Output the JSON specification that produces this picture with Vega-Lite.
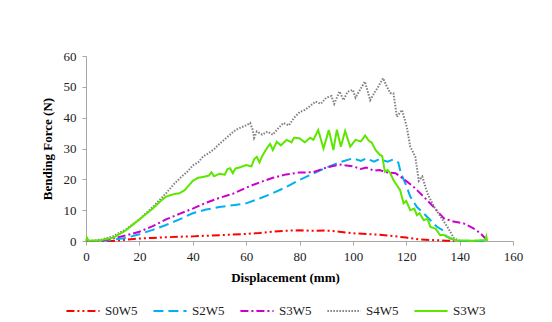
{
  "$schema": "https://vega.github.io/schema/vega-lite/v6.json",
  "autosize": "none",
  "width": 427,
  "height": 185,
  "padding": {"left": 86, "top": 56, "right": 39, "bottom": 81},
  "background": "white",
  "config": {
    "font": "'Liberation Serif', 'Times New Roman', serif",
    "view": {"stroke": null},
    "axis": {
      "labelFont": "'Liberation Serif', 'Times New Roman', serif",
      "labelFontSize": 13,
      "labelColor": "#222222",
      "domainColor": "#A6A6A6",
      "tickColor": "#A6A6A6",
      "tickSize": 4,
      "grid": false,
      "labelFlush": false,
      "titleFont": "'Liberation Serif', 'Times New Roman', serif",
      "titleFontSize": 13,
      "titleFontWeight": "bold",
      "titleColor": "#000000"
    },
    "legend": {
      "labelFont": "'Liberation Serif', 'Times New Roman', serif",
      "labelFontSize": 13,
      "labelColor": "#222222"
    }
  },
  "data": {
    "values": [
      {"series": "S0W5", "x": 0, "y": 0},
      {"series": "S0W5", "x": 5, "y": 0},
      {"series": "S0W5", "x": 10, "y": 0},
      {"series": "S0W5", "x": 15, "y": 0.4},
      {"series": "S0W5", "x": 20, "y": 0.8},
      {"series": "S0W5", "x": 25, "y": 1.0},
      {"series": "S0W5", "x": 30, "y": 1.2},
      {"series": "S0W5", "x": 35, "y": 1.4},
      {"series": "S0W5", "x": 40, "y": 1.5},
      {"series": "S0W5", "x": 45, "y": 1.7},
      {"series": "S0W5", "x": 50, "y": 1.9},
      {"series": "S0W5", "x": 55, "y": 2.1},
      {"series": "S0W5", "x": 60, "y": 2.3},
      {"series": "S0W5", "x": 65, "y": 2.6},
      {"series": "S0W5", "x": 70, "y": 3.0},
      {"series": "S0W5", "x": 75, "y": 3.3},
      {"series": "S0W5", "x": 80, "y": 3.5},
      {"series": "S0W5", "x": 85, "y": 3.3},
      {"series": "S0W5", "x": 90, "y": 3.4},
      {"series": "S0W5", "x": 95, "y": 3.0},
      {"series": "S0W5", "x": 100, "y": 2.5},
      {"series": "S0W5", "x": 105, "y": 2.3},
      {"series": "S0W5", "x": 110, "y": 2.0},
      {"series": "S0W5", "x": 115, "y": 1.6},
      {"series": "S0W5", "x": 120, "y": 1.1},
      {"series": "S0W5", "x": 125, "y": 0.5},
      {"series": "S0W5", "x": 130, "y": 0.3},
      {"series": "S0W5", "x": 135, "y": 0.1},
      {"series": "S0W5", "x": 138, "y": 0},

      {"series": "S2W5", "x": 0, "y": 0},
      {"series": "S2W5", "x": 5, "y": 0},
      {"series": "S2W5", "x": 10, "y": 0.4},
      {"series": "S2W5", "x": 15, "y": 1.0},
      {"series": "S2W5", "x": 20, "y": 2.2},
      {"series": "S2W5", "x": 25, "y": 3.6},
      {"series": "S2W5", "x": 30, "y": 5.2},
      {"series": "S2W5", "x": 35, "y": 7.0},
      {"series": "S2W5", "x": 40, "y": 9.0},
      {"series": "S2W5", "x": 45, "y": 10.2},
      {"series": "S2W5", "x": 50, "y": 11.0},
      {"series": "S2W5", "x": 55, "y": 11.6},
      {"series": "S2W5", "x": 60, "y": 12.2},
      {"series": "S2W5", "x": 65, "y": 13.8},
      {"series": "S2W5", "x": 70, "y": 15.5},
      {"series": "S2W5", "x": 75, "y": 17.5},
      {"series": "S2W5", "x": 80, "y": 19.8},
      {"series": "S2W5", "x": 85, "y": 21.8},
      {"series": "S2W5", "x": 90, "y": 23.8},
      {"series": "S2W5", "x": 95, "y": 25.5},
      {"series": "S2W5", "x": 100, "y": 26.8},
      {"series": "S2W5", "x": 103, "y": 26.0},
      {"series": "S2W5", "x": 105, "y": 26.8},
      {"series": "S2W5", "x": 108, "y": 25.7},
      {"series": "S2W5", "x": 110, "y": 26.6},
      {"series": "S2W5", "x": 113, "y": 25.7},
      {"series": "S2W5", "x": 115, "y": 26.4},
      {"series": "S2W5", "x": 117, "y": 25.5},
      {"series": "S2W5", "x": 118, "y": 22.0},
      {"series": "S2W5", "x": 120, "y": 18.0},
      {"series": "S2W5", "x": 121.5, "y": 14.4},
      {"series": "S2W5", "x": 124, "y": 11.0},
      {"series": "S2W5", "x": 126.5, "y": 9.0},
      {"series": "S2W5", "x": 129, "y": 6.8},
      {"series": "S2W5", "x": 131.5, "y": 4.6},
      {"series": "S2W5", "x": 133.5, "y": 3.6},
      {"series": "S2W5", "x": 135, "y": 1.5},
      {"series": "S2W5", "x": 137.5, "y": 0.5},
      {"series": "S2W5", "x": 140, "y": 0},
      {"series": "S2W5", "x": 145, "y": 0},
      {"series": "S2W5", "x": 150, "y": 0},

      {"series": "S3W5", "x": 0, "y": 0},
      {"series": "S3W5", "x": 5, "y": 0},
      {"series": "S3W5", "x": 10, "y": 0.8},
      {"series": "S3W5", "x": 15, "y": 1.8},
      {"series": "S3W5", "x": 20, "y": 3.0},
      {"series": "S3W5", "x": 25, "y": 4.8},
      {"series": "S3W5", "x": 30, "y": 7.0},
      {"series": "S3W5", "x": 35, "y": 8.8},
      {"series": "S3W5", "x": 40, "y": 10.5},
      {"series": "S3W5", "x": 45, "y": 12.4},
      {"series": "S3W5", "x": 50, "y": 14.0},
      {"series": "S3W5", "x": 55, "y": 15.3},
      {"series": "S3W5", "x": 60, "y": 17.3},
      {"series": "S3W5", "x": 65, "y": 19.0},
      {"series": "S3W5", "x": 70, "y": 20.5},
      {"series": "S3W5", "x": 75, "y": 21.6},
      {"series": "S3W5", "x": 80, "y": 22.2},
      {"series": "S3W5", "x": 85, "y": 22.3},
      {"series": "S3W5", "x": 90, "y": 23.8},
      {"series": "S3W5", "x": 95, "y": 24.8},
      {"series": "S3W5", "x": 100, "y": 24.2},
      {"series": "S3W5", "x": 103, "y": 23.4},
      {"series": "S3W5", "x": 105, "y": 23.8},
      {"series": "S3W5", "x": 108, "y": 22.8},
      {"series": "S3W5", "x": 110, "y": 23.0},
      {"series": "S3W5", "x": 113, "y": 22.2},
      {"series": "S3W5", "x": 116, "y": 22.0},
      {"series": "S3W5", "x": 118.7, "y": 20.3},
      {"series": "S3W5", "x": 122.7, "y": 17.6},
      {"series": "S3W5", "x": 126.5, "y": 14.4},
      {"series": "S3W5", "x": 130.2, "y": 11.1},
      {"series": "S3W5", "x": 134, "y": 7.4},
      {"series": "S3W5", "x": 137.7, "y": 6.3},
      {"series": "S3W5", "x": 141.5, "y": 5.7},
      {"series": "S3W5", "x": 145, "y": 4.2},
      {"series": "S3W5", "x": 147.7, "y": 2.6},
      {"series": "S3W5", "x": 150, "y": 0.5},

      {"series": "S4W5", "x": 0, "y": 0},
      {"series": "S4W5", "x": 3, "y": 0.1},
      {"series": "S4W5", "x": 6, "y": 0.5},
      {"series": "S4W5", "x": 10, "y": 1.5},
      {"series": "S4W5", "x": 15, "y": 3.8},
      {"series": "S4W5", "x": 20, "y": 7.0},
      {"series": "S4W5", "x": 25, "y": 11.0},
      {"series": "S4W5", "x": 30, "y": 15.5},
      {"series": "S4W5", "x": 33, "y": 18.5},
      {"series": "S4W5", "x": 36, "y": 21.0},
      {"series": "S4W5", "x": 38, "y": 22.5},
      {"series": "S4W5", "x": 40, "y": 24.5},
      {"series": "S4W5", "x": 42, "y": 25.5},
      {"series": "S4W5", "x": 44, "y": 27.5},
      {"series": "S4W5", "x": 46, "y": 28.5},
      {"series": "S4W5", "x": 48, "y": 29.8},
      {"series": "S4W5", "x": 50, "y": 31.5},
      {"series": "S4W5", "x": 52, "y": 33.0},
      {"series": "S4W5", "x": 54, "y": 34.5},
      {"series": "S4W5", "x": 56, "y": 36.0},
      {"series": "S4W5", "x": 58, "y": 36.8},
      {"series": "S4W5", "x": 60, "y": 37.5},
      {"series": "S4W5", "x": 61.5, "y": 38.3},
      {"series": "S4W5", "x": 62.5, "y": 36.0},
      {"series": "S4W5", "x": 63, "y": 33.5},
      {"series": "S4W5", "x": 64, "y": 35.5},
      {"series": "S4W5", "x": 66, "y": 34.5},
      {"series": "S4W5", "x": 68, "y": 35.5},
      {"series": "S4W5", "x": 70, "y": 34.5},
      {"series": "S4W5", "x": 72, "y": 36.5},
      {"series": "S4W5", "x": 74, "y": 38.3},
      {"series": "S4W5", "x": 76, "y": 37.5},
      {"series": "S4W5", "x": 78, "y": 40.0},
      {"series": "S4W5", "x": 80, "y": 41.8},
      {"series": "S4W5", "x": 82, "y": 42.5},
      {"series": "S4W5", "x": 84, "y": 43.8},
      {"series": "S4W5", "x": 86, "y": 45.2},
      {"series": "S4W5", "x": 88, "y": 44.5},
      {"series": "S4W5", "x": 90, "y": 46.5},
      {"series": "S4W5", "x": 92, "y": 47.0},
      {"series": "S4W5", "x": 93, "y": 44.5},
      {"series": "S4W5", "x": 95, "y": 48.5},
      {"series": "S4W5", "x": 96.5, "y": 45.7},
      {"series": "S4W5", "x": 98, "y": 48.4},
      {"series": "S4W5", "x": 100, "y": 49.0},
      {"series": "S4W5", "x": 101, "y": 46.5},
      {"series": "S4W5", "x": 103, "y": 49.5},
      {"series": "S4W5", "x": 104.5, "y": 51.7},
      {"series": "S4W5", "x": 106.5, "y": 45.7},
      {"series": "S4W5", "x": 108, "y": 48.0},
      {"series": "S4W5", "x": 109.5, "y": 50.0},
      {"series": "S4W5", "x": 111.3, "y": 52.8},
      {"series": "S4W5", "x": 112.5, "y": 50.5},
      {"series": "S4W5", "x": 114, "y": 48.0},
      {"series": "S4W5", "x": 115.2, "y": 47.9},
      {"series": "S4W5", "x": 116.5, "y": 40.3},
      {"series": "S4W5", "x": 118.4, "y": 42.5},
      {"series": "S4W5", "x": 120.2, "y": 37.0},
      {"series": "S4W5", "x": 121.5, "y": 30.6},
      {"series": "S4W5", "x": 123.4, "y": 27.3},
      {"series": "S4W5", "x": 124.7, "y": 19.5},
      {"series": "S4W5", "x": 126, "y": 20.9},
      {"series": "S4W5", "x": 127.9, "y": 15.5},
      {"series": "S4W5", "x": 130.4, "y": 11.1},
      {"series": "S4W5", "x": 132.9, "y": 7.9},
      {"series": "S4W5", "x": 135.4, "y": 4.6},
      {"series": "S4W5", "x": 137.9, "y": 0.9},
      {"series": "S4W5", "x": 140, "y": 0},
      {"series": "S4W5", "x": 141, "y": 0},

      {"series": "S3W3", "x": 0, "y": 0},
      {"series": "S3W3", "x": 0.4, "y": 1.0},
      {"series": "S3W3", "x": 1, "y": 0.1},
      {"series": "S3W3", "x": 5, "y": 0.2},
      {"series": "S3W3", "x": 10, "y": 1.0},
      {"series": "S3W3", "x": 15, "y": 3.5},
      {"series": "S3W3", "x": 20, "y": 7.0},
      {"series": "S3W3", "x": 25, "y": 10.5},
      {"series": "S3W3", "x": 28, "y": 13.0},
      {"series": "S3W3", "x": 30, "y": 14.4},
      {"series": "S3W3", "x": 33, "y": 15.2},
      {"series": "S3W3", "x": 35, "y": 15.5},
      {"series": "S3W3", "x": 37, "y": 16.5},
      {"series": "S3W3", "x": 40, "y": 19.5},
      {"series": "S3W3", "x": 42, "y": 20.5},
      {"series": "S3W3", "x": 44, "y": 20.8},
      {"series": "S3W3", "x": 46, "y": 21.2},
      {"series": "S3W3", "x": 47, "y": 22.3},
      {"series": "S3W3", "x": 48, "y": 21.0},
      {"series": "S3W3", "x": 50, "y": 21.8},
      {"series": "S3W3", "x": 52, "y": 21.5},
      {"series": "S3W3", "x": 53, "y": 23.3},
      {"series": "S3W3", "x": 54, "y": 23.6},
      {"series": "S3W3", "x": 55, "y": 22.0},
      {"series": "S3W3", "x": 56, "y": 23.5},
      {"series": "S3W3", "x": 58, "y": 24.0},
      {"series": "S3W3", "x": 60, "y": 24.6},
      {"series": "S3W3", "x": 62, "y": 24.2},
      {"series": "S3W3", "x": 63, "y": 26.5},
      {"series": "S3W3", "x": 64, "y": 27.3},
      {"series": "S3W3", "x": 65, "y": 25.5},
      {"series": "S3W3", "x": 66, "y": 27.5},
      {"series": "S3W3", "x": 67.7, "y": 30.0},
      {"series": "S3W3", "x": 69, "y": 31.5},
      {"series": "S3W3", "x": 70, "y": 29.5},
      {"series": "S3W3", "x": 71.5, "y": 32.2},
      {"series": "S3W3", "x": 73, "y": 31.0},
      {"series": "S3W3", "x": 75.2, "y": 32.8},
      {"series": "S3W3", "x": 77, "y": 32.0},
      {"series": "S3W3", "x": 78, "y": 33.5},
      {"series": "S3W3", "x": 80, "y": 33.3},
      {"series": "S3W3", "x": 82, "y": 32.0},
      {"series": "S3W3", "x": 84, "y": 33.5},
      {"series": "S3W3", "x": 85.2, "y": 32.8},
      {"series": "S3W3", "x": 87, "y": 36.0},
      {"series": "S3W3", "x": 89, "y": 30.0},
      {"series": "S3W3", "x": 91, "y": 36.0},
      {"series": "S3W3", "x": 92.7, "y": 29.5},
      {"series": "S3W3", "x": 94, "y": 36.1},
      {"series": "S3W3", "x": 95.5, "y": 30.6},
      {"series": "S3W3", "x": 97.1, "y": 35.7},
      {"series": "S3W3", "x": 99, "y": 30.6},
      {"series": "S3W3", "x": 101, "y": 32.8},
      {"series": "S3W3", "x": 103, "y": 32.3},
      {"series": "S3W3", "x": 104.6, "y": 34.2},
      {"series": "S3W3", "x": 106, "y": 32.5},
      {"series": "S3W3", "x": 107, "y": 32.0},
      {"series": "S3W3", "x": 108.5, "y": 29.5},
      {"series": "S3W3", "x": 110.2, "y": 27.9},
      {"series": "S3W3", "x": 111, "y": 27.5},
      {"series": "S3W3", "x": 112, "y": 22.5},
      {"series": "S3W3", "x": 113, "y": 23.0},
      {"series": "S3W3", "x": 114, "y": 22.0},
      {"series": "S3W3", "x": 115.2, "y": 19.8},
      {"series": "S3W3", "x": 116, "y": 18.7},
      {"series": "S3W3", "x": 117.7, "y": 16.5},
      {"series": "S3W3", "x": 119, "y": 12.2},
      {"series": "S3W3", "x": 120, "y": 13.0},
      {"series": "S3W3", "x": 121.5, "y": 10.0},
      {"series": "S3W3", "x": 123, "y": 10.5},
      {"series": "S3W3", "x": 124, "y": 8.4},
      {"series": "S3W3", "x": 125, "y": 9.0},
      {"series": "S3W3", "x": 126.5, "y": 6.8},
      {"series": "S3W3", "x": 128, "y": 7.2},
      {"series": "S3W3", "x": 129, "y": 4.6},
      {"series": "S3W3", "x": 131, "y": 4.0},
      {"series": "S3W3", "x": 132.7, "y": 1.9},
      {"series": "S3W3", "x": 134, "y": 2.0},
      {"series": "S3W3", "x": 136.5, "y": 0.9},
      {"series": "S3W3", "x": 139, "y": 0.2},
      {"series": "S3W3", "x": 145, "y": 0.1},
      {"series": "S3W3", "x": 149.5, "y": 0.3},
      {"series": "S3W3", "x": 150, "y": 1.5},
      {"series": "S3W3", "x": 150.3, "y": 0}
    ]
  },
  "mark": {"type": "line", "strokeWidth": 2, "interpolate": "linear"},
  "encoding": {
    "x": {
      "field": "x",
      "type": "quantitative",
      "scale": {"domain": [0, 160], "nice": false, "zero": false},
      "axis": {
        "title": "Displacement (mm)",
        "values": [0, 20, 40, 60, 80, 100, 120, 140, 160],
        "labelPadding": 5,
        "titlePadding": 8,
        "titleX": 199
      }
    },
    "y": {
      "field": "y",
      "type": "quantitative",
      "scale": {"domain": [0, 60], "nice": false},
      "axis": {
        "title": "Bending Force (N)",
        "values": [0, 10, 20, 30, 40, 50, 60],
        "labelPadding": 6,
        "titlePadding": 9
      }
    },
    "color": {
      "field": "series",
      "type": "nominal",
      "scale": {
        "domain": ["S0W5", "S2W5", "S3W5", "S4W5", "S3W3"],
        "range": ["#FF0000", "#00B0F0", "#CC00CC", "#808080", "#5CE600"]
      },
      "legend": {
        "title": null,
        "orient": "none",
        "legendX": -21,
        "legendY": 237,
        "direction": "horizontal",
        "columns": 5,
        "symbolType": "stroke",
        "symbolSize": 1100,
        "symbolStrokeWidth": 2,
        "labelOffset": 4,
        "columnPadding": 11
      }
    },
    "strokeDash": {
      "field": "series",
      "type": "nominal",
      "scale": {
        "domain": ["S0W5", "S2W5", "S3W5", "S4W5", "S3W3"],
        "range": [[8, 3, 2, 3, 2, 3], [10, 5], [8, 3, 2, 3], [1.5, 1.5], [1, 0]]
      }
    },
    "order": {"field": "x", "type": "quantitative"}
  }
}
